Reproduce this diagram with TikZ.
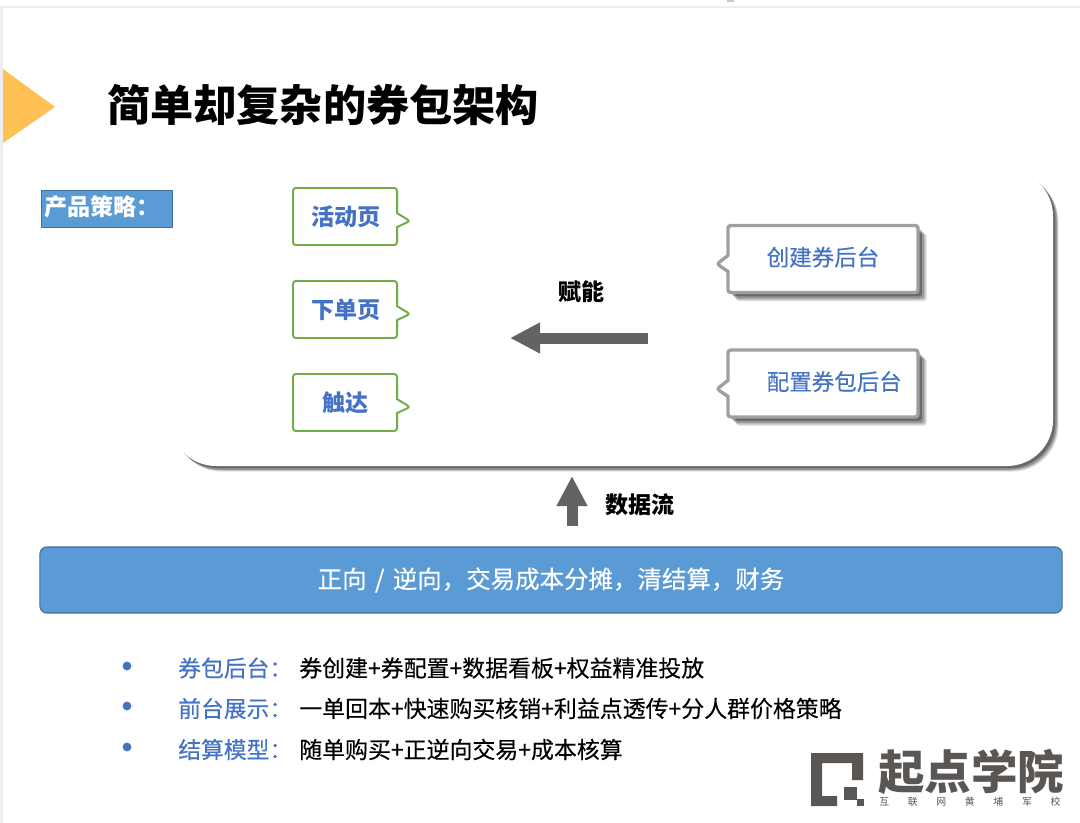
\documentclass[tikz,border=0pt]{standalone}
\usepackage{fontspec}
\usepackage{xcolor}
\usetikzlibrary{arrows.meta}
\usetikzlibrary{shadows}
\usetikzlibrary{shapes.callouts}
\newfontfamily\cjk{Noto Sans CJK SC}
\newfontfamily\cjkmid[FakeBold=0.25]{Noto Sans CJK SC}
\definecolor{barblue}{HTML}{5B9BD5}
\definecolor{barline}{HTML}{41719C}
\definecolor{textblue}{HTML}{4472C4}
\definecolor{boxgreen}{HTML}{70AD47}
\definecolor{boxgrey}{HTML}{A0A0A0}
\definecolor{arrowgrey}{HTML}{636363}
\definecolor{logogrey}{HTML}{595654}
\definecolor{titleorange}{HTML}{FFC055}
\definecolor{edgegrey}{HTML}{ECECF2}
\tikzset{
  softshadow/.style={
    general shadow={shadow xshift=#1*0.028cm,shadow yshift=-#1*0.028cm,fill=black,opacity=0.10},
    general shadow={shadow xshift=#1*0.024cm,shadow yshift=-#1*0.024cm,fill=black,opacity=0.15},
    general shadow={shadow xshift=#1*0.019cm,shadow yshift=-#1*0.019cm,fill=black,opacity=0.22},
    general shadow={shadow xshift=#1*0.012cm,shadow yshift=-#1*0.012cm,fill=black,opacity=0.30}},
  greenbox/.style={rectangle callout,draw=boxgreen,fill=white,line width=1.4pt,rounded corners=2pt,
    minimum width=2.6cm,minimum height=1.425cm,inner sep=0pt,callout pointer width=0.35cm,
    font=\cjk\fontsize{16.4}{20}\selectfont\bfseries,text=textblue},
  greybox/.style={rectangle callout,draw=boxgrey,fill=white,line width=2.4pt,rounded corners=2pt,
    minimum width=4.75cm,minimum height=1.675cm,inner sep=0pt,text depth=4pt,callout pointer width=0.4cm,
    softshadow=8,font=\cjkmid\fontsize{16}{20}\selectfont,text=textblue},
  bigarrow/.style={draw=arrowgrey,line width=0.275cm,-{Triangle[length=0.75cm,width=0.72cm]}},
  bullet/.style={circle,fill=textblue,inner sep=0pt,minimum size=0.22cm},
  bulletlabel/.style={anchor=west,inner sep=0pt,font=\cjkmid\fontsize{16.2}{18}\selectfont,text=textblue},
  bullettext/.style={anchor=west,inner sep=0pt,font=\cjkmid\fontsize{16.3}{18}\selectfont,text=black}
}
\begin{document}
\begin{tikzpicture}[x=0.025cm,y=-0.025cm]
    \useasboundingbox (0,0) rectangle (1080,823);
    \fill [white] (0,0) rectangle (1080,823);

    % Page edge
    \fill [edgegrey] (0,6) rectangle (1080,8);
    \fill [edgegrey] (0,8) rectangle (3,823);
    \fill [boxgrey!60] (727,0) rectangle (734,2);

    % White panel
    \fill [white,rounded corners=1.15cm,softshadow=5] (170,170) rectangle (1053,466);

    % Title
    \fill [titleorange] (3,69) -- (55,107) -- (3,143) -- cycle;
    \node [anchor=west,inner sep=0pt,font=\cjk\fontsize{30.7}{36}\selectfont\bfseries] (title) at (107,105) {简单却复杂的券包架构};

    % Strategy tag
    \node [draw=barline,fill=barblue,line width=0.7pt,anchor=west,minimum width=3.275cm,minimum height=0.925cm,inner sep=0pt,text=white] (strategy) at (41,208.5) {};
    \node [anchor=west,inner sep=0pt,text=white,font=\cjk\fontsize{16.4}{20}\selectfont\bfseries] (strategytext) at (44,207) {产品策略：};

    % Left pages
    \node [greenbox,callout absolute pointer={(410,221)}] (activity) at (345,216.5) {\hspace{1pt}活动页};
    \node [greenbox,callout absolute pointer={(410,314)}] (order) at (345,309.5) {\hspace{1pt}下单页};
    \node [greenbox,callout absolute pointer={(410,407)}] (reach) at (345,402.5) {\hspace{1pt}触达};

    % Right back ends
    \node [greybox,callout absolute pointer={(717,264)}] (create) at (823,259) {创建券后台};
    \node [greybox,callout absolute pointer={(717,389)}] (config) at (823,383.5) {\makebox[80pt][l]{配置券包后台}};

    % Enabling arrow
    \coordinate (enablefrom) at (648,338);
    \coordinate (enableto) at (510,338);
    \draw [bigarrow] (enablefrom) -- (enableto);
    \node [inner sep=0pt,font=\cjk\fontsize{16.4}{20}\selectfont\bfseries] (enable) at (581.5,292) {赋能};

    % Data arrow
    \coordinate (datafrom) at (572,526);
    \coordinate (datato) at (572,476);
    \draw [bigarrow] (datafrom) -- (datato);
    \node [inner sep=0pt,font=\cjk\fontsize{16.4}{20}\selectfont\bfseries] (data) at (640,505) {数据流};

    % Base bar
    \node [draw=barline,fill=barblue,line width=0.8pt,rounded corners=5pt,minimum width=25.55cm,minimum height=1.65cm,inner sep=0pt,text=white,font=\cjkmid\fontsize{17.4}{20}\selectfont] (base) at (551,580) {正向\hspace{2pt} / \hspace{2pt}逆向，交易成本分摊，清结算，财务};

    % Bullet list
    \node [bullet] (dota) at (127,666) {};
    \node [bulletlabel] (labela) at (178,668) {券包后台：};
    \node [bullettext] (texta) at (299,668) {券创建+券配置+数据看板+权益精准投放};
    \node [bullet] (dotb) at (127,706) {};
    \node [bulletlabel] (labelb) at (178,708.5) {前台展示：};
    \node [bullettext] (textb) at (299,708.5) {一单回本+快速购买核销+利益点透传+分人群价格策略};
    \node [bullet] (dotc) at (127,747) {};
    \node [bulletlabel] (labelc) at (178,749.5) {结算模型：};
    \node [bullettext] (textc) at (299,749.5) {随单购买+正逆向交易+成本核算};

    % Logo
    \fill [logogrey] (811,753) -- (863,753) -- (863,780) -- (852,780) -- (852,763) -- (822,763) -- (822,796) -- (837,796) -- (837,806) -- (811,806) -- cycle;
    \fill [logogrey] (844,787) rectangle (857,800);
    \fill [logogrey] (857,799) rectangle (864,806);
    \node [anchor=west,inner sep=0pt,text=logogrey,font=\cjk\fontsize{33.1}{36}\selectfont\bfseries] (logoname) at (878,772) {起点学院};
    \node [anchor=west,inner sep=0pt,text=logogrey,font=\cjk\fontsize{7}{8}\selectfont\addfontfeature{LetterSpace=190}] (logoline) at (879,802) {互联网黄埔军校};
\end{tikzpicture}
\end{document}
